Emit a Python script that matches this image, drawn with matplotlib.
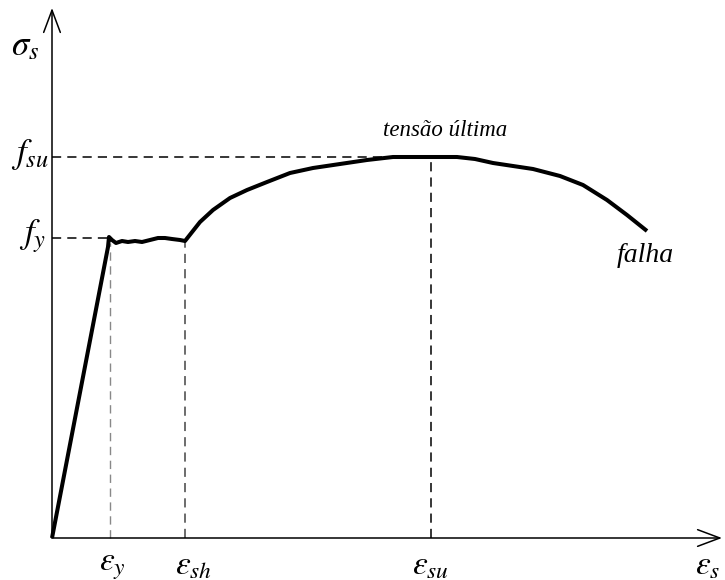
import numpy as np
import matplotlib.pyplot as plt

plt.rcParams['mathtext.fontset'] = 'stix'

# 1. DATA (deformacao em %, tensao em MPa - diagrama esquematico)
eps = [0, 0.56, 0.57, 0.60, 0.64, 0.70, 0.76, 0.83, 0.90, 0.98, 1.06, 1.13, 1.20, 1.28, 1.33,
       1.48, 1.61, 1.78, 1.95, 2.15, 2.38, 2.61, 2.88, 3.15, 3.41, 3.61, 3.79, 4.05, 4.23,
       4.41, 4.61, 4.81, 5.08, 5.31, 5.55, 5.75, 5.95]
sig = [0, 291, 301, 298, 295, 297, 296, 297, 296, 298, 300, 300, 299, 298, 297,
       316, 328, 340, 348, 356, 365, 370, 374, 378, 381, 381, 381, 381, 379,
       375, 372, 369, 362, 353, 338, 323, 307]

eps_y, eps_sh, eps_su = 0.58, 1.33, 3.79
f_y, f_su = 300, 381
eps_max, sig_max = 6.70, 530

# 2. FIGURA
fig = plt.figure(figsize=(7.25, 5.8), dpi=100)
ax = fig.add_axes([0, 0, 1, 1])
ax.set_xlim(-0.52, 6.73)
ax.set_ylim(-42, 538)
ax.axis('off')

# 3. EIXOS COM SETA
ax.annotate('', xy=(0, sig_max), xytext=(0, 0),
            arrowprops=dict(arrowstyle='->, head_length=0.8, head_width=0.3',
                            mutation_scale=20, lw=1.1, color='black', shrinkA=0, shrinkB=0))
ax.annotate('', xy=(eps_max, 0), xytext=(0, 0),
            arrowprops=dict(arrowstyle='->, head_length=0.8, head_width=0.3',
                            mutation_scale=20, lw=1.1, color='black', shrinkA=0, shrinkB=0))

# 4. LINHAS TRACEJADAS
ax.plot([0, eps_su], [f_su, f_su], color='black', lw=1.1, dashes=(6, 4))
ax.plot([0, eps_y], [f_y, f_y], color='black', lw=1.1, dashes=(6, 4))
ax.plot([eps_y, eps_y], [0, 295], color='#888888', lw=1.0, dashes=(6, 4))
ax.plot([eps_sh, eps_sh], [0, 296], color='#444444', lw=1.1, dashes=(6, 4))
ax.plot([eps_su, eps_su], [0, f_su], color='black', lw=1.1, dashes=(6, 4))

# 5. CURVA TENSAO-DEFORMACAO
ax.plot(eps, sig, color='black', lw=2.9, solid_joinstyle='round', solid_capstyle='butt')

# 6. TEXTOS
ax.text(-0.27, 493, r'$\sigma_s$', fontsize=25, ha='center', va='center')
ax.text(-0.03, f_su + 2, r'$f_{su}$', fontsize=25, ha='right', va='center')
ax.text(-0.06, f_y + 2, r'$f_y$', fontsize=25, ha='right', va='center')
ax.text(eps_y + 0.02, -27, r'$\varepsilon_y$', fontsize=24, ha='center', va='center')
ax.text(eps_sh + 0.09, -27, r'$\varepsilon_{sh}$', fontsize=24, ha='center', va='center')
ax.text(eps_su, -27, r'$\varepsilon_{su}$', fontsize=24, ha='center', va='center')
ax.text(6.56, -27, r'$\varepsilon_s$', fontsize=24, ha='center', va='center')

ax.text(3.93, 407, 'tensão última', fontsize=16.5, style='italic', family='Liberation Serif',
        ha='center', va='center')
ax.text(5.93, 283, 'falha', fontsize=20, style='italic', family='Liberation Serif',
        ha='center', va='center')

plt.savefig('out.png', dpi=100)
